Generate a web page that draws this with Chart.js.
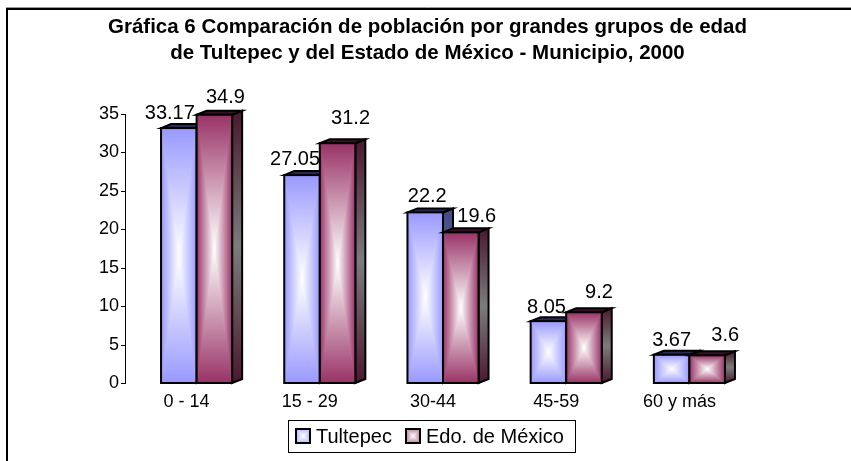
<!DOCTYPE html>
<html>
<head>
<meta charset="utf-8">
<script src="https://cdn.jsdelivr.net/npm/chart.js@4"></script>
<style>
  html, body { margin: 0; padding: 0; background: #fff; }
</style>
</head>
<body>
<canvas id="grafica" width="851" height="461"></canvas>
<script>
// datos
var categorias = ["0 - 14", "15 - 29", "30-44", "45-59", "60 y más"];
var tultepec = [33.17, 27.05, 22.2, 8.05, 3.67];
var edoMexico = [34.9, 31.2, 19.6, 9.2, 3.6];
var marcasY = [0, 5, 10, 15, 20, 25, 30, 35];
var titulo = ["Gráfica 6 Comparación de población por grandes grupos de edad",
              "de Tultepec y del Estado de México - Municipio, 2000"];

var fuente = "'Liberation Sans', Arial, sans-serif";

// estilo de cada serie (cara frontal, lateral y tapa)
var estilos = [
  { frente: '#9999ff', lado: ['#414a88', '#6f7390'], tapa: '#262a55', icono: '#b8b8ff' },
  { frente: '#993366', lado: ['#4a1830', '#7c7c7c'], tapa: '#3a1026', icono: '#b9809c' }
];
var prof = { dx: 10, dy: -4 };

// desplazamiento de cada etiqueta respecto al centro/tope de la barra
var desplEtiquetas = [
  [[-9, -15], [-7, -16], [2, -16], [-2, -14], [0, -14]],
  [[11, -17], [13, -25], [16, -16], [15, -20], [18, -20]]
];

function caraFrontal(ctx, x0, y0, x1, y1, color) {
  var cx = (x0 + x1) / 2, cy = (y0 + y1) / 2;
  var partes = [
    [x0, y0, x1, y0, 'v', y0],
    [x1, y1, x0, y1, 'v', y1],
    [x0, y1, x0, y0, 'h', x0],
    [x1, y0, x1, y1, 'h', x1]
  ];
  partes.forEach(function (p) {
    var g = p[4] === 'v' ? ctx.createLinearGradient(0, p[5], 0, cy)
                         : ctx.createLinearGradient(p[5], 0, cx, 0);
    g.addColorStop(0, color);
    g.addColorStop(1, '#ffffff');
    ctx.beginPath();
    ctx.moveTo(p[0], p[1]);
    ctx.lineTo(p[2], p[3]);
    ctx.lineTo(cx, cy);
    ctx.closePath();
    ctx.fillStyle = g;
    ctx.strokeStyle = g;
    ctx.lineWidth = 0.8;
    ctx.fill();
    ctx.stroke();
  });
  ctx.lineWidth = 2;
  ctx.strokeStyle = '#000';
  ctx.strokeRect(x0, y0, x1 - x0, y1 - y0);
}

function barra3d(ctx, el, est) {
  var x0 = el.x - el.width / 2, x1 = el.x + el.width / 2;
  var y0 = el.y, y1 = el.base;
  var dx = prof.dx, dy = prof.dy;
  ctx.save();
  ctx.lineJoin = 'miter';
  // lateral
  var g = ctx.createLinearGradient(0, y0 + dy, 0, y1);
  g.addColorStop(0, est.lado[0]);
  g.addColorStop(0.5, est.lado[1]);
  g.addColorStop(1, est.lado[0]);
  ctx.beginPath();
  ctx.moveTo(x1, y0);
  ctx.lineTo(x1 + dx, y0 + dy);
  ctx.lineTo(x1 + dx, y1 + dy);
  ctx.lineTo(x1, y1);
  ctx.closePath();
  ctx.fillStyle = g;
  ctx.fill();
  ctx.lineWidth = 2;
  ctx.strokeStyle = '#000';
  ctx.stroke();
  // tapa
  ctx.beginPath();
  ctx.moveTo(x0, y0);
  ctx.lineTo(x0 + dx, y0 + dy);
  ctx.lineTo(x1 + dx, y0 + dy);
  ctx.lineTo(x1, y0);
  ctx.closePath();
  ctx.fillStyle = est.tapa;
  ctx.fill();
  ctx.stroke();
  // frente
  caraFrontal(ctx, x0, y0, x1, y1, est.frente);
  ctx.restore();
}

var pluginFondo = {
  id: 'fondo',
  beforeDraw: function (chart) {
    var ctx = chart.ctx;
    ctx.save();
    ctx.fillStyle = '#fff';
    ctx.fillRect(0, 0, chart.width, chart.height);
    ctx.strokeStyle = '#999';
    ctx.lineWidth = 1;
    ctx.beginPath();
    ctx.moveTo(6, 7.5);
    ctx.lineTo(chart.width, 7.5);
    ctx.stroke();
    ctx.strokeStyle = '#000';
    ctx.lineWidth = 2;
    ctx.beginPath();
    ctx.moveTo(7, chart.height + 5);
    ctx.lineTo(7, 9);
    ctx.lineTo(chart.width + 5, 9);
    ctx.stroke();
    // titulo
    ctx.fillStyle = '#000';
    ctx.font = 'bold 20.5px ' + fuente;
    ctx.textAlign = 'center';
    ctx.textBaseline = 'middle';
    titulo.forEach(function (linea, i) {
      ctx.fillText(linea, 427.5, 27 + i * 26);
    });
    ctx.restore();
  }
};

var pluginEjeY = {
  id: 'ejeY',
  beforeDatasetsDraw: function (chart) {
    var ctx = chart.ctx, y = chart.scales.y;
    var xe = chart.chartArea.left - 10;
    ctx.save();
    ctx.strokeStyle = '#000';
    ctx.lineWidth = 1;
    ctx.beginPath();
    ctx.moveTo(xe + 0.5, y.getPixelForValue(marcasY[marcasY.length - 1]));
    ctx.lineTo(xe + 0.5, y.getPixelForValue(marcasY[0]));
    marcasY.forEach(function (v) {
      var py = Math.round(y.getPixelForValue(v)) + 0.5;
      ctx.moveTo(xe - 4, py);
      ctx.lineTo(xe + 1, py);
    });
    ctx.stroke();
    ctx.restore();
  }
};

var pluginBarras = {
  id: 'barras3d',
  afterDatasetsDraw: function (chart) {
    var ctx = chart.ctx;
    var metas = [chart.getDatasetMeta(0), chart.getDatasetMeta(1)];
    for (var i = 0; i < categorias.length; i++) {
      metas.forEach(function (m, d) {
        barra3d(ctx, m.data[i], estilos[d]);
      });
    }
    // etiquetas de valores
    ctx.save();
    ctx.font = '20px ' + fuente;
    ctx.fillStyle = '#000';
    ctx.textAlign = 'center';
    ctx.textBaseline = 'middle';
    metas.forEach(function (m, d) {
      var valores = chart.data.datasets[d].data;
      m.data.forEach(function (el, i) {
        var off = desplEtiquetas[d][i];
        ctx.fillText(String(valores[i]), el.x + off[0], el.y + off[1]);
      });
    });
    ctx.restore();
  }
};

var pluginLeyenda = {
  id: 'leyendaCaja',
  afterDraw: function (chart) {
    var ctx = chart.ctx;
    var caja = { x: 288, y: 420, w: 287, h: 32 };
    ctx.save();
    ctx.strokeStyle = '#000';
    ctx.lineWidth = 1;
    ctx.strokeRect(caja.x + 0.5, caja.y + 0.5, caja.w, caja.h);
    ctx.font = '20px ' + fuente;
    ctx.textBaseline = 'middle';
    ctx.fillStyle = '#000';
    var xs = [296, 406];
    chart.data.datasets.forEach(function (ds, d) {
      var s = 14, ix = xs[d], iy = caja.y + 9;
      caraFrontal(ctx, ix, iy, ix + s, iy + s, estilos[d].icono);
      ctx.fillStyle = '#000';
      ctx.fillText(ds.label, ix + s + 6, caja.y + 17);
    });
    ctx.restore();
  }
};

new Chart(document.getElementById('grafica'), {
  type: 'bar',
  data: {
    labels: categorias,
    datasets: [
      { label: 'Tultepec', data: tultepec },
      { label: 'Edo. de México', data: edoMexico }
    ]
  },
  options: {
    responsive: false,
    animation: false,
    devicePixelRatio: 1,
    datasets: {
      bar: {
        backgroundColor: 'rgba(0,0,0,0)',
        borderWidth: 0,
        categoryPercentage: 0.577,
        barPercentage: 1
      }
    },
    layout: { padding: { left: 0, right: 100, top: 114, bottom: 48 } },
    plugins: {
      legend: { display: false },
      tooltip: { enabled: false },
      title: { display: false }
    },
    scales: {
      x: {
        grid: { display: false, drawTicks: false },
        border: { display: false },
        ticks: {
          color: '#000',
          font: { family: fuente, size: 18 },
          padding: 8,
          labelOffset: -10,
          maxRotation: 0,
          autoSkip: false
        },
        afterFit: function (s) { s.height = 30; }
      },
      y: {
        min: marcasY[0],
        max: marcasY[marcasY.length - 1],
        grid: { display: false, drawTicks: false },
        border: { display: false },
        ticks: {
          color: '#000',
          font: { family: fuente, size: 18 },
          padding: 16
        },
        afterBuildTicks: function (s) {
          s.ticks = marcasY.map(function (v) { return { value: v }; });
        },
        afterFit: function (s) { s.width = 135; }
      }
    }
  },
  plugins: [pluginFondo, pluginEjeY, pluginBarras, pluginLeyenda]
});
</script>
</body>
</html>
